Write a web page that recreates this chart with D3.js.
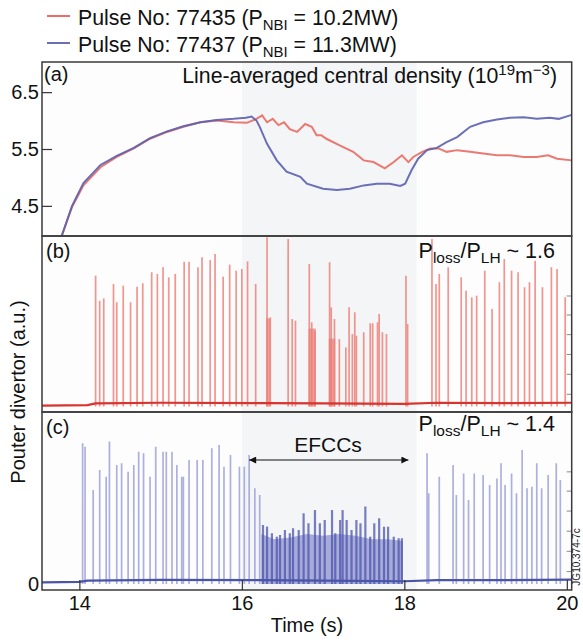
<!DOCTYPE html>
<html><head><meta charset="utf-8">
<script src="https://cdn.jsdelivr.net/npm/d3@7/dist/d3.min.js"></script>
<style>
html,body{margin:0;padding:0;background:#fff;}
svg{display:block;font-family:"Liberation Sans",Arial,Helvetica,sans-serif;}
</style></head>
<body><svg id="chart" width="583" height="643"></svg>
<script>
// ---------- DATA ----------
const legendLabels = ["Pulse No: 77435 (P", "Pulse No: 77437 (P"];
const legendPower = ["10.2MW", "11.3MW"];
const xTicks = [14, 16, 18, 20];
const densityTicks = [4.5, 5.5, 6.5];
const efccStart = 16.0, efccEnd = 18.15;

// (a) line-averaged central density
const redT = [13.78,13.91,14.05,14.26,14.46,14.67,14.87,15.08,15.28,15.49,15.69,15.90,16.06,16.18,16.25,16.31,16.38,16.45,16.52,16.59,16.68,16.78,16.86,16.92,16.98,17.04,17.21,17.37,17.50,17.62,17.76,17.87,17.97,18.05,18.11,18.22,18.32,18.42,18.52,18.65,18.81,18.97,19.14,19.30,19.47,19.63,19.77,19.88,20.06];
const redV = [3.96,4.48,4.86,5.18,5.36,5.51,5.68,5.80,5.89,5.97,6.00,5.97,5.96,6.03,6.09,5.97,6.03,5.92,5.97,5.85,5.80,5.94,5.89,5.74,5.74,5.68,5.56,5.45,5.30,5.27,5.16,5.27,5.39,5.27,5.36,5.45,5.51,5.51,5.45,5.48,5.45,5.42,5.39,5.39,5.36,5.36,5.39,5.33,5.30];
const blueT = [13.78,13.91,14.05,14.26,14.46,14.67,14.87,15.08,15.28,15.49,15.69,15.90,16.05,16.12,16.18,16.22,16.31,16.43,16.55,16.72,16.80,17.00,17.17,17.33,17.50,17.66,17.82,17.95,18.01,18.09,18.17,18.28,18.40,18.52,18.65,18.81,18.97,19.14,19.30,19.47,19.63,19.79,19.90,20.06];
const blueV = [3.96,4.50,4.90,5.22,5.38,5.52,5.69,5.81,5.90,5.97,6.01,6.03,6.05,6.07,6.00,5.89,5.59,5.30,5.10,5.01,4.89,4.80,4.78,4.80,4.86,4.89,4.89,4.85,4.89,5.13,5.33,5.48,5.52,5.62,5.71,5.89,5.97,6.02,6.05,6.06,6.03,6.05,6.03,6.10];

// (b) outer divertor signal, pulse 77435 : ELM spikes (a.u.)
const bTimes = [14.20,14.25,14.30,14.42,14.46,14.54,14.63,14.71,14.78,14.89,14.96,15.03,15.10,15.18,15.29,15.35,15.46,15.51,15.61,15.67,15.77,15.85,15.93,16.00,16.07,16.17,16.31,16.35,16.57,16.62,16.66,16.83,16.86,16.90,17.08,17.10,17.14,17.20,17.28,17.32,17.36,17.39,17.41,17.50,17.58,17.61,17.67,17.69,17.73,17.78,18.02,18.04,18.34,18.39,18.43,18.54,18.70,18.76,18.83,18.89,18.99,19.08,19.17,19.23,19.32,19.40,19.48,19.54,19.61,19.70,19.81,19.88,19.98];
const bHeights = [7.72,6.24,6.38,7.23,6.15,7.13,6.15,7.07,7.27,7.92,7.82,8.21,7.62,7.82,8.54,8.54,8.21,8.80,8.64,9.00,7.66,8.37,8.01,8.11,8.56,7.23,9.98,5.26,9.88,5.16,5.06,8.41,4.97,4.47,8.51,5.85,5.16,3.98,3.49,5.85,4.28,5.56,4.18,4.38,4.91,4.91,4.97,5.46,4.38,4.28,7.72,4.87,9.88,7.23,7.82,8.21,7.62,6.83,6.44,6.54,8.01,5.75,7.33,8.70,8.01,7.92,7.03,7.33,8.60,7.03,8.21,8.11,6.44];
const bBurstStart = [16.30, 16.82, 17.07];
const bBurstEnd = [16.35, 16.91, 17.15];
const bBurstH = [5.2, 4.6, 4.0];
const bBaseT = [13.54, 14.10, 14.20, 15.00, 16.30, 17.00, 18.00, 18.40, 19.20, 20.06];
const bBaseV = [0.05, 0.08, 0.18, 0.22, 0.20, 0.18, 0.15, 0.22, 0.20, 0.22];

// (c) outer divertor signal, pulse 77437
const cTimes = [14.04,14.07,14.17,14.25,14.33,14.37,14.46,14.52,14.60,14.67,14.73,14.79,14.87,14.94,15.03,15.07,15.14,15.20,15.26,15.28,15.35,15.45,15.52,15.63,15.72,15.78,15.86,15.97,16.03,16.09,16.16,16.22,18.28,18.30,18.43,18.60,18.64,18.73,18.79,18.86,18.97,19.05,19.14,19.19,19.24,19.32,19.38,19.45,19.51,19.57,19.63,19.69,19.77,19.87,19.92];
const cHeights = [8.18,7.98,5.47,6.63,6.24,8.28,6.92,7.02,6.53,6.92,7.69,7.60,6.24,7.98,7.69,7.69,7.69,6.92,6.24,6.24,7.21,7.21,7.21,7.89,8.08,6.82,7.50,6.82,6.82,7.50,5.56,5.17,7.60,5.27,6.24,6.92,5.17,6.43,4.88,6.43,6.34,5.76,6.14,7.02,5.76,6.43,5.27,7.79,5.56,5.66,7.02,5.56,6.34,7.02,6.05];
const ccTimes = [16.26,16.31,16.37,16.43,16.47,16.53,16.59,16.63,16.70,16.76,16.82,16.90,16.96,17.02,17.11,17.15,17.21,17.24,17.29,17.35,17.41,17.46,17.52,17.58,17.63,17.69,17.75,17.80,17.87,17.93,17.97];
const ccHeights = [3.43,3.34,2.95,2.75,2.85,3.14,2.95,3.24,3.14,4.11,3.53,4.30,3.53,3.72,4.30,2.95,3.72,4.30,3.72,3.14,3.72,3.53,4.50,2.75,3.53,3.82,3.33,3.33,2.75,2.66,2.66];
const cEnvT = [16.24,16.40,16.60,16.80,17.00,17.20,17.40,17.60,17.80,17.98];
const cEnvH = [2.9,2.6,2.7,2.9,2.8,2.9,2.8,2.6,2.6,2.5];
const cBaseT = [13.54, 14.00, 14.10, 15.00, 16.20, 17.00, 18.00, 18.40, 19.20, 20.06];
const cBaseV = [0.10, 0.12, 0.20, 0.24, 0.22, 0.20, 0.16, 0.22, 0.22, 0.25];
const rightTicks = [0.72, 1.9, 3.07, 4.24, 5.4, 6.52];

// ---------- LAYOUT ----------
const L = 42, R = 571.7;
const pa = {top: 62, bottom: 236};
const pb = {top: 236, bottom: 412};
const pc = {top: 412, bottom: 590};

const svg = d3.select("#chart");
const x = d3.scaleLinear().domain([13.54, 20.06]).range([L, R]);
const ya = d3.scaleLinear().domain([3.97, 7.03]).range([pa.bottom, pa.top]);
const yb = d3.scaleLinear().domain([0, 10]).range([406.5, 237]);
const yc = d3.scaleLinear().domain([0, 10]).range([584, 412]);

const RED = "#e63b35", BLUE = "#3a3f98";

// backgrounds
[pa, pb, pc].forEach(p => {
  svg.append("rect").attr("x", L).attr("y", p.top).attr("width", R - L).attr("height", p.bottom - p.top).attr("fill", "#fdfdfe");
  svg.append("rect").attr("x", x(efccStart)).attr("y", p.top).attr("width", x(efccEnd) - x(efccStart))
    .attr("height", p.bottom - p.top).attr("fill", "#f4f5f7");
});

const defs = svg.append("defs");
[["clipA", pa], ["clipB", pb], ["clipC", pc]].forEach(([id, p]) => {
  defs.append("clipPath").attr("id", id).append("rect").attr("x", L).attr("y", p.top).attr("width", R - L).attr("height", p.bottom - p.top);
});

// ---------- panel (a) ----------
const ga = svg.append("g").attr("clip-path", "url(#clipA)");
const la = d3.line().x(d => x(d[0])).y(d => ya(d[1]));
ga.append("path").datum(d3.zip(redT, redV)).attr("d", la).attr("fill", "none")
  .attr("stroke", "#ea6a62").attr("stroke-width", 2).attr("stroke-opacity", 0.9);
ga.append("path").datum(d3.zip(blueT, blueV)).attr("d", la).attr("fill", "none")
  .attr("stroke", "#5b60b0").attr("stroke-width", 2).attr("stroke-opacity", 0.9);

// ---------- panel (b) ----------
const gb = svg.append("g").attr("clip-path", "url(#clipB)");
gb.selectAll("rect.burst").data(d3.zip(bBurstStart, bBurstEnd, bBurstH)).join("rect")
  .attr("x", d => x(d[0])).attr("width", d => x(d[1]) - x(d[0]))
  .attr("y", d => yb(d[2])).attr("height", d => yb(0) - yb(d[2]))
  .attr("fill", "#e5554e").attr("fill-opacity", 0.55);
gb.selectAll("line.spk").data(d3.zip(bTimes, bHeights)).join("line")
  .attr("x1", d => x(d[0])).attr("x2", d => x(d[0]))
  .attr("y1", yb(0)).attr("y2", d => yb(d[1]))
  .attr("stroke", "#ee7a73").attr("stroke-width", 1.7).attr("stroke-opacity", 0.8);
gb.append("path").datum(d3.zip(bBaseT, bBaseV)).attr("d", d3.line().x(d => x(d[0])).y(d => yb(d[1])))
  .attr("fill", "none").attr("stroke", "#d8332d").attr("stroke-width", 2.2);
gb.selectAll("line.rt").data(rightTicks).join("line")
  .attr("x1", R - 5).attr("x2", R).attr("y1", d => yb(d)).attr("y2", d => yb(d))
  .attr("stroke", "#888").attr("stroke-width", 1);

// ---------- panel (c) ----------
const gc = svg.append("g").attr("clip-path", "url(#clipC)");
gc.append("path").datum(d3.zip(cEnvT, cEnvH))
  .attr("d", d3.area().x(d => x(d[0])).y0(yc(0)).y1(d => yc(d[1])))
  .attr("fill", "#5a62b8").attr("fill-opacity", 0.5);
gc.selectAll("line.spk").data(d3.zip(cTimes, cHeights)).join("line")
  .attr("x1", d => x(d[0])).attr("x2", d => x(d[0]))
  .attr("y1", yc(0)).attr("y2", d => yc(d[1]))
  .attr("stroke", "#9ea2d8").attr("stroke-width", 1.7).attr("stroke-opacity", 0.85);
gc.selectAll("line.cl").data(d3.zip(ccTimes, ccHeights)).join("line")
  .attr("x1", d => x(d[0])).attr("x2", d => x(d[0]))
  .attr("y1", yc(0)).attr("y2", d => yc(d[1]))
  .attr("stroke", "#4b53ad").attr("stroke-width", 2.2).attr("stroke-opacity", 0.75);
gc.append("path").datum(d3.zip(cBaseT, cBaseV)).attr("d", d3.line().x(d => x(d[0])).y(d => yc(d[1])))
  .attr("fill", "none").attr("stroke", "#4a55a8").attr("stroke-width", 2.2);
gc.selectAll("line.rt").data(rightTicks).join("line")
  .attr("x1", R - 5).attr("x2", R).attr("y1", d => yc(d)).attr("y2", d => yc(d))
  .attr("stroke", "#888").attr("stroke-width", 1);

// ---------- frames ----------
[pa, pb, pc].forEach(p => {
  svg.append("rect").attr("x", L).attr("y", p.top).attr("width", R - L).attr("height", p.bottom - p.top)
    .attr("fill", "none").attr("stroke", "#3a3a3a").attr("stroke-width", 1.5);
});

// ---------- axes ----------
const axA = svg.append("g").attr("transform", `translate(${L},0)`)
  .call(d3.axisLeft(ya).tickValues(densityTicks).tickFormat(d3.format(".1f")).tickSizeInner(-10).tickSizeOuter(0).tickPadding(3));
const axC = svg.append("g").attr("transform", `translate(${L},0)`)
  .call(d3.axisLeft(yc).tickValues([0]).tickFormat(d3.format("d")).tickSizeInner(0).tickSizeOuter(0).tickPadding(3));
const axX = svg.append("g").attr("transform", `translate(0,${pc.bottom})`)
  .call(d3.axisBottom(x).tickValues(xTicks).tickFormat(d3.format("d")).tickSizeInner(-10).tickSizeOuter(0).tickPadding(6));
[axA, axC, axX].forEach(g => {
  g.select(".domain").remove();
  g.selectAll(".tick line").attr("stroke", "#333").attr("stroke-width", 1.2);
  g.selectAll(".tick text").attr("font-size", 20).attr("fill", "#111")
    .attr("font-family", '"Liberation Sans",Arial,sans-serif');
});

// ---------- texts ----------
const T = (xx, yy, s, opts = {}) => svg.append("text").attr("x", xx).attr("y", yy)
  .attr("font-size", opts.size || 20).attr("fill", "#111").attr("text-anchor", opts.anchor || "start").text(s);

// legend
[0, 1].forEach(i => {
  const yy = 16 + i * 27;
  svg.append("line").attr("x1", 47).attr("x2", 70).attr("y1", yy).attr("y2", yy)
    .attr("stroke", i === 0 ? RED : BLUE).attr("stroke-width", 1.5);
  const t = svg.append("text").attr("x", 78).attr("y", yy + 9).attr("font-size", 21.3).attr("fill", "#111");
  t.append("tspan").text(legendLabels[i]);
  t.append("tspan").attr("font-size", 15).attr("dy", 5).text("NBI");
  t.append("tspan").attr("dy", -5).text(" = " + legendPower[i] + ")");
});

// panel labels
T(44, 81, "(a)");
T(46, 258, "(b)");
T(46, 434, "(c)");

// title (a)
const ta = svg.append("text").attr("x", 557).attr("y", 83).attr("font-size", 21.3).attr("fill", "#111").attr("text-anchor", "end");
ta.append("tspan").text("Line-averaged central density (10");
ta.append("tspan").attr("font-size", 15).attr("dy", -8).text("19");
ta.append("tspan").attr("dy", 8).text("m");
ta.append("tspan").attr("font-size", 15).attr("dy", -8).text("\u22123");
ta.append("tspan").attr("dy", 8).text(")");

// Ploss/PLH
[["1.6", 258], ["1.4", 431]].forEach(([v, yy]) => {
  const t = svg.append("text").attr("x", 555).attr("y", yy).attr("font-size", 21.5).attr("fill", "#111").attr("text-anchor", "end");
  t.append("tspan").text("P");
  t.append("tspan").attr("font-size", 15.5).attr("dy", 5).text("loss");
  t.append("tspan").attr("dy", -5).text("/P");
  t.append("tspan").attr("font-size", 15.5).attr("dy", 5).text("LH");
  t.append("tspan").attr("dy", -5).text(" ~ " + v);
});

// EFCCs arrow
const mk = (id, path) => defs.append("marker").attr("id", id).attr("viewBox", "0 0 10 10").attr("refX", 10).attr("refY", 5)
  .attr("markerWidth", 9).attr("markerHeight", 7).attr("markerUnits", "userSpaceOnUse").attr("orient", "auto-start-reverse")
  .append("path").attr("d", path).attr("fill", "#111");
mk("arr", "M0,0 L10,5 L0,10 z");
svg.append("line").attr("x1", x(16.09)).attr("x2", x(18.05)).attr("y1", 460).attr("y2", 460)
  .attr("stroke", "#111").attr("stroke-width", 1.2)
  .attr("marker-start", "url(#arr)").attr("marker-end", "url(#arr)");
T(328, 452, "EFCCs", {anchor: "middle", size: 21});

// axis titles
T(307, 632, "Time (s)", {anchor: "middle"});
svg.append("text").attr("transform", "translate(25,392) rotate(-90)").attr("text-anchor", "middle")
  .attr("font-size", 20).attr("fill", "#111").text("Pouter divertor (a.u.)");
svg.append("text").attr("transform", "translate(580,557) rotate(-90)").attr("text-anchor", "middle")
  .attr("font-size", 10).attr("fill", "#222").text("JG10.374-7c");
</script></body></html>
